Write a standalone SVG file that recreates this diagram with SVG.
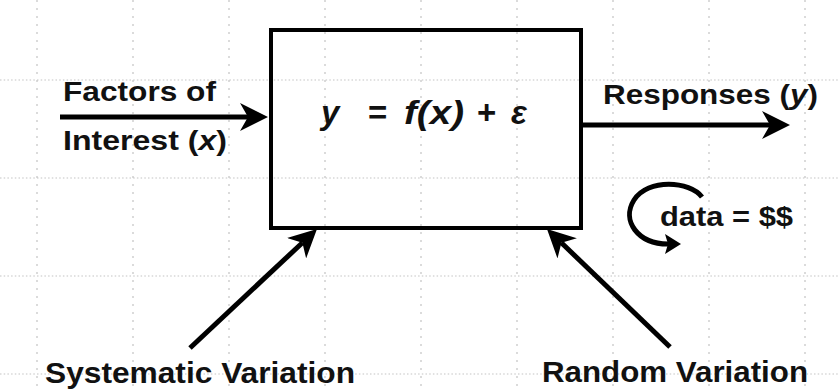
<svg xmlns="http://www.w3.org/2000/svg" width="838" height="389" viewBox="0 0 838 389">
<style>
.gh{stroke:#c4c4c4;stroke-width:1.2;stroke-dasharray:1.5 2.2;fill:none}
.gv{stroke:#c4c4c4;stroke-width:1.2;stroke-dasharray:2 6;fill:none}
.lbl{font-family:"Liberation Sans",Arial,sans-serif;font-weight:bold;fill:#111}
.eq{font-family:"Liberation Sans",Arial,sans-serif;font-weight:bold;font-style:italic;fill:#111;font-size:33px}
.conn{stroke:#000;stroke-width:5;fill:none}
</style>
<defs>
<marker id="ah" viewBox="0 0 28 28" refX="8" refY="14" markerWidth="28" markerHeight="28" markerUnits="userSpaceOnUse" orient="auto">
<path d="M0,0 L28,14 L0,28 L8,14 Z" fill="#000"/>
</marker>
<marker id="ahs" viewBox="0 0 16 20" refX="3" refY="10" markerWidth="16" markerHeight="20" markerUnits="userSpaceOnUse" orient="auto">
<path d="M0,0 L16,10 L0,20 L3,10 Z" fill="#000"/>
</marker>
</defs>
<rect width="838" height="389" fill="#fff"/>
<g id="grid">
<path class="gh" d="M0,80H838M0,178H838M0,276H838M0,374H838"/>
<path class="gv" d="M37,0V389M133,0V389M229,0V389M325,0V389M421,0V389M517,0V389M613,0V389M709,0V389M805,0V389"/>
</g>
<g id="process">
<rect x="271" y="30" width="310" height="198" fill="none" stroke="#000" stroke-width="4"/>
<text class="eq" x="321" y="124">y</text>
<text class="eq" x="368" y="124" style="font-style:normal">=</text>
<text class="eq" x="404" y="124" textLength="60" lengthAdjust="spacingAndGlyphs">f(x)</text>
<text class="eq" x="477" y="124" style="font-style:normal">+</text>
<text class="eq" x="511" y="124">ε</text>
</g>
<g id="factors">
<text class="lbl" x="63" y="101" font-size="28" textLength="153" lengthAdjust="spacingAndGlyphs">Factors of</text>
<text class="lbl" x="63" y="150" font-size="28" textLength="164" lengthAdjust="spacingAndGlyphs">Interest (<tspan font-style="italic">x</tspan>)</text>
</g>
<g id="responses">
<text class="lbl" x="603" y="104" font-size="28" textLength="215" lengthAdjust="spacingAndGlyphs">Responses (<tspan font-style="italic">y</tspan>)</text>
</g>
<g id="data">
<text class="lbl" x="660" y="226" font-size="27" textLength="133" lengthAdjust="spacingAndGlyphs">data = $$</text>
</g>
<g id="systematic">
<text class="lbl" x="45" y="383" font-size="30" textLength="310" lengthAdjust="spacingAndGlyphs">Systematic Variation</text>
</g>
<g id="random">
<text class="lbl" x="542" y="382" font-size="30" textLength="266" lengthAdjust="spacingAndGlyphs">Random Variation</text>
</g>
<g id="connectors">
<line class="conn" x1="60" y1="117" x2="248" y2="117" marker-end="url(#ah)"/>
<line class="conn" x1="582" y1="125" x2="770" y2="125" marker-end="url(#ah)"/>
<line class="conn" x1="190" y1="348" x2="302.4" y2="242.7" marker-end="url(#ah)"/>
<line class="conn" x1="670" y1="347" x2="561.4" y2="242.8" marker-end="url(#ah)"/>
<path class="conn" d="M702,197 C690,181 648,178 634,200 C621,221 638,244 668,244" marker-end="url(#ahs)"/>
</g>
</svg>
